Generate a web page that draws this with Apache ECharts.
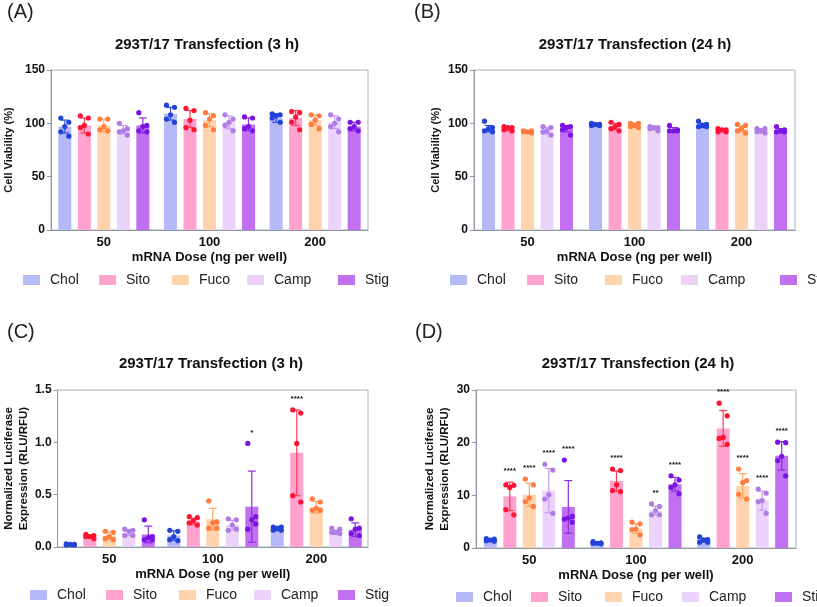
<!DOCTYPE html>
<html><head><meta charset="utf-8">
<script src="https://cdn.jsdelivr.net/npm/echarts@6/dist/echarts.min.js"></script>
<style>html,body{margin:0;padding:0;background:#fff}#c{width:817px;height:607px}</style>
</head><body><div id="c"></div>
<script>
// ---------- DATA ----------
const doses = ['50', '100', '200'];
const lipids = ['Chol', 'Sito', 'Fuco', 'Camp', 'Stig'];

// Panel A: cell viability (%), 3 h. rows = lipids, cols = doses
const A_MEAN = [[97,109,105],[98,104,105],[98,103,103],[94,101,101],[98,99,97]];
const A_SD   = [[6,6,4],[7,8,7],[6,6,5],[4,6,6],[7,6,4]];
const A_PTS_CHOL = [[105,101,97,92,88],[117,115,108,104,101],[109,108,107,105,101]];
const A_PTS_SITO = [[107,105,98,96,90],[114,112,103,96,94],[111,110,106,101,94]];
const A_PTS_FUCO = [[104,104,97,94,93],[110,107,104,98,94],[108,107,103,99,95]];
const A_PTS_CAMP = [[100,95,93,92,89],[108,104,101,98,93],[108,104,100,97,92]];
const A_PTS_STIG = [[110,98,97,93,92],[106,105,97,95,93],[101,101,97,95,93]];

// Panel B: cell viability (%), 24 h
const B_MEAN = [[95,99,98],[95,97,93],[92,98,95],[93,95,93],[95,94,93]];
const B_SD   = [[3,1,2],[2,3,1],[1,2,3],[3,1,2],[3,2,2]];
const B_PTS_CHOL = [[102,96,95,93,92],[100,99,99,98,98],[102,99,98,97,97]];
const B_PTS_SITO = [[97,96,96,94,93],[101,99,97,95,93],[95,94,94,92,92]];
const B_PTS_FUCO = [[93,93,92,92,91],[100,100,98,97,96],[99,98,95,93,91]];
const B_PTS_CAMP = [[97,96,93,92,89],[97,96,96,95,93],[95,95,93,92,91]];
const B_PTS_STIG = [[98,97,96,94,89],[98,94,93,93,93],[97,94,93,92,92]];

// Panel C: normalized luciferase (RLU/RFU), 3 h
const C_MEAN = [[0.025,0.11,0.175],[0.10,0.245,0.90],[0.11,0.265,0.38],[0.135,0.21,0.14],[0.12,0.385,0.165]];
const C_SD   = [[0.005,0.045,0.02],[0.015,0.03,0.41],[0.035,0.105,0.055],[0.025,0.045,0.02],[0.08,0.34,0.065]];
const C_PTS_CHOL = [[0.03,0.025,0.025,0.02,0.02],[0.16,0.15,0.10,0.07,0.06],[0.19,0.19,0.18,0.16,0.16]];
const C_PTS_SITO = [[0.12,0.11,0.10,0.10,0.08],[0.29,0.28,0.25,0.23,0.21],[1.31,1.28,0.99,0.49,0.43]];
const C_PTS_FUCO = [[0.15,0.14,0.10,0.08,0.07],[0.44,0.24,0.23,0.18,0.18],[0.46,0.43,0.37,0.35,0.35]];
const C_PTS_CAMP = [[0.17,0.16,0.15,0.11,0.11],[0.27,0.26,0.21,0.16,0.17],[0.18,0.17,0.14,0.14,0.13]];
const C_PTS_STIG = [[0.26,0.10,0.09,0.07,0.07],[0.99,0.29,0.26,0.17,0.22],[0.27,0.18,0.17,0.13,0.11]];
const C_SIG = [['','',''],['','','****'],['','',''],['','',''],['','*','']];

// Panel D: normalized luciferase (RLU/RFU), 24 h
const D_MEAN = [[1.5,0.95,1.5],[9.8,12.7,22.7],[10.1,3.7,11.8],[10.9,7.1,9.0],[7.8,12.1,17.5]];
const D_SD   = [[0.2,0.15,0.35],[2.7,1.9,3.4],[2.2,0.9,2.3],[4.2,0.8,1.8],[5.0,1.3,2.7]];
const D_PTS_CHOL = [[1.8,1.7,1.5,1.4,1.3],[1.2,1.0,0.9,0.9,0.8],[2.1,1.6,1.5,1.1,1.1]];
const D_PTS_SITO = [[12.0,11.9,11.5,7.3,6.3],[15.0,14.7,12.0,10.9,10.7],[27.5,25.1,21.0,20.8,19.7]];
const D_PTS_FUCO = [[13.1,12.0,9.5,8.8,7.9],[4.9,4.6,3.6,3.5,2.5],[15.0,12.8,12.4,10.2,9.3]];
const D_PTS_CAMP = [[15.9,14.8,10.1,9.3,6.6],[8.4,7.9,7.1,6.3,6.3],[11.2,10.4,9.0,8.8,6.6]];
const D_PTS_STIG = [[16.7,6.0,5.7,5.5,4.9],[13.7,12.9,12.0,11.5,10.3],[20.1,20.0,17.4,16.6,13.7]];
const D_SIG = [['','',''],['****','****','****'],['****','','****'],['****','**','****'],['****','****','****']];

const titles = ['293T/17 Transfection (3 h)', '293T/17 Transfection (24 h)', '293T/17 Transfection (3 h)', '293T/17 Transfection (24 h)'];
const panelLabels = ['(A)', '(B)', '(C)', '(D)'];
const xName = 'mRNA Dose (ng per well)';
const yNames = ['Cell Viability (%)', 'Cell Viability (%)', 'Normalized Luciferase\nExpression (RLU/RFU)', 'Normalized Luciferase\nExpression (RLU/RFU)'];

// ---------- STYLE / LAYOUT ----------
const FONT = 'Liberation Sans, Arial, Helvetica, sans-serif';
const BAR_COLORS = ['#b6b9f7', '#ffa2cd', '#fed3ad', '#ecd3fa', '#c170f2'];
const DOT_COLORS = ['#2343d8', '#ff1232', '#ff7c3c', '#b07ce6', '#7a14e0'];
const ERR_COLORS = ['#3550d8', '#ff3c5c', '#f9a76a', '#c79ae9', '#8a2ee0'];
const BAR_W = 13, BAR_STEP = 19.5;
const JITTER = [-4, 4, 0, -4, 4];

const grids = [
  {left: 46, top: 70, width: 322, height: 160},
  {left: 474, top: 70, width: 321, height: 160},
  {left: 55, top: 390, width: 313, height: 157},
  {left: 476, top: 390, width: 320, height: 158}
];
const yMax = [150, 150, 1.5, 30];
const yInt = [50, 50, 0.5, 10];
const yNameGap = [35, 31, 22, 18];
const yNameSize = [11, 11, 11.5, 11.5];
const legendLeft = [[23, 99, 172, 247, 338], [450, 527, 605, 681, 780], [30, 106, 179, 254, 338], [456, 531, 605, 682, 775]];
const legendMidY = [280, 280, 595, 597];
const titlePos = [[207, 45], [635, 45], [211, 364], [638, 364]];
const labelPos = [[7, 12], [414, 12], [7, 332], [415, 332]];

const MEANS = [A_MEAN, B_MEAN, C_MEAN, D_MEAN];
const SDS = [A_SD, B_SD, C_SD, D_SD];
const PTS = [
  [A_PTS_CHOL, A_PTS_SITO, A_PTS_FUCO, A_PTS_CAMP, A_PTS_STIG],
  [B_PTS_CHOL, B_PTS_SITO, B_PTS_FUCO, B_PTS_CAMP, B_PTS_STIG],
  [C_PTS_CHOL, C_PTS_SITO, C_PTS_FUCO, C_PTS_CAMP, C_PTS_STIG],
  [D_PTS_CHOL, D_PTS_SITO, D_PTS_FUCO, D_PTS_CAMP, D_PTS_STIG]
];
const SIGS = [null, null, C_SIG, D_SIG];

const AXIS_COLOR = '#8f99a6';
const TEXT_COLOR = '#111';

const xAxis = [], yAxis = [], series = [], legend = [], graphic = [];

grids.forEach((g, p) => {
  xAxis.push({
    type: 'category', gridIndex: p, data: doses,
    axisLine: {lineStyle: {color: AXIS_COLOR, width: 1}},
    axisTick: {alignWithLabel: true, length: 4, lineStyle: {color: AXIS_COLOR}},
    axisLabel: {fontSize: 13, fontWeight: 'bold', color: TEXT_COLOR, margin: 6, fontFamily: FONT},
    name: xName, nameLocation: 'middle', nameGap: 21,
    nameTextStyle: {fontSize: 13, fontWeight: 'bold', color: TEXT_COLOR, fontFamily: FONT, verticalAlign: 'top'}
  });
  yAxis.push({
    type: 'value', gridIndex: p, min: 0, max: yMax[p], interval: yInt[p],
    axisLine: {show: true, lineStyle: {color: AXIS_COLOR, width: 1}},
    axisTick: {show: true, length: 4, lineStyle: {color: AXIS_COLOR}},
    splitLine: {show: false},
    axisLabel: {fontSize: 12, fontWeight: 'bold', color: TEXT_COLOR, margin: 6, fontFamily: FONT,
      formatter: v => (p === 2 ? v.toFixed(1) : String(v))},
    name: yNames[p], nameLocation: 'middle', nameGap: yNameGap[p],
    nameTextStyle: {fontSize: yNameSize[p], fontWeight: 'bold', color: TEXT_COLOR, fontFamily: FONT, lineHeight: 15}
  });

  lipids.forEach((lip, j) => {
    series.push({
      type: 'bar', name: lip, xAxisIndex: p, yAxisIndex: p,
      data: MEANS[p][j], barWidth: BAR_W, barGap: '50%',
      itemStyle: {color: BAR_COLORS[j]}, silent: true
    });
  });
  lipids.forEach((lip, j) => {
    const pts = PTS[p][j];
    const sig = SIGS[p];
    series.push({
      type: 'custom', xAxisIndex: p, yAxisIndex: p, silent: true, z: 3,
      data: doses.map((d, i) => [i, MEANS[p][j][i], SDS[p][j][i]].concat(pts[i])),
      encode: {x: 0, y: 1},
      renderItem: (params, api) => {
        const ci = api.value(0), m = api.value(1), sd = api.value(2);
        const c = api.coord([ci, m]);
        const cx = c[0] + (j - 2) * BAR_STEP;
        const yTop = api.coord([ci, m + sd])[1];
        const yBot = api.coord([ci, Math.max(m - sd, 0)])[1];
        const ec = ERR_COLORS[j];
        const children = [
          {type: 'line', shape: {x1: cx, y1: yTop, x2: cx, y2: yBot}, style: {stroke: ec, lineWidth: 1.2}},
          {type: 'line', shape: {x1: cx - 4, y1: yTop, x2: cx + 4, y2: yTop}, style: {stroke: ec, lineWidth: 1.2}},
          {type: 'line', shape: {x1: cx - 4, y1: yBot, x2: cx + 4, y2: yBot}, style: {stroke: ec, lineWidth: 1.2}}
        ];
        let minY = yTop;
        for (let k = 0; k < 5; k++) {
          const v = api.value(3 + k);
          const py = api.coord([ci, v])[1];
          minY = Math.min(minY, py);
          children.push({type: 'circle', shape: {cx: cx + JITTER[k], cy: py, r: 2.6}, style: {fill: DOT_COLORS[j]}});
        }
        if (sig) {
          const s = sig[j][params.dataIndex];
          if (s) {
            children.push({type: 'text', style: {text: s, x: cx, y: minY - 11, align: 'center', verticalAlign: 'middle',
              textAlign: 'center', textVerticalAlign: 'middle', font: 'bold 8px ' + FONT, fill: TEXT_COLOR}});
          }
        }
        return {type: 'group', children};
      }
    });
  });

  lipids.forEach((lip, j) => {
    legend.push({
      data: [lip], left: legendLeft[p][j], top: legendMidY[p] - 7, padding: 0,
      icon: 'rect', itemWidth: 17, itemHeight: 10, selectedMode: false,
      textStyle: {fontSize: 14, color: '#222', fontFamily: FONT, padding: [0, 0, 0, 5]}
    });
  });

  graphic.push({type: 'text', x: titlePos[p][0], y: titlePos[p][1],
    style: {text: titles[p], align: 'center', verticalAlign: 'middle', textAlign: 'center', textVerticalAlign: 'middle',
      font: 'bold 15px ' + FONT, fill: TEXT_COLOR}});
  graphic.push({type: 'text', x: labelPos[p][0], y: labelPos[p][1],
    style: {text: panelLabels[p], align: 'left', verticalAlign: 'middle', textAlign: 'left', textVerticalAlign: 'middle',
      font: '20px ' + FONT, fill: '#222'}});
});

const chart = echarts.init(document.getElementById('c'), null, {renderer: 'canvas'});
chart.setOption({
  animation: false,
  backgroundColor: '#fff',
  textStyle: {fontFamily: FONT},
  grid: grids.map(g => Object.assign({show: true, borderColor: '#a9b2bd', borderWidth: 1, backgroundColor: 'transparent'}, g)),
  xAxis, yAxis, series, legend, graphic
});
</script>
</body></html>
